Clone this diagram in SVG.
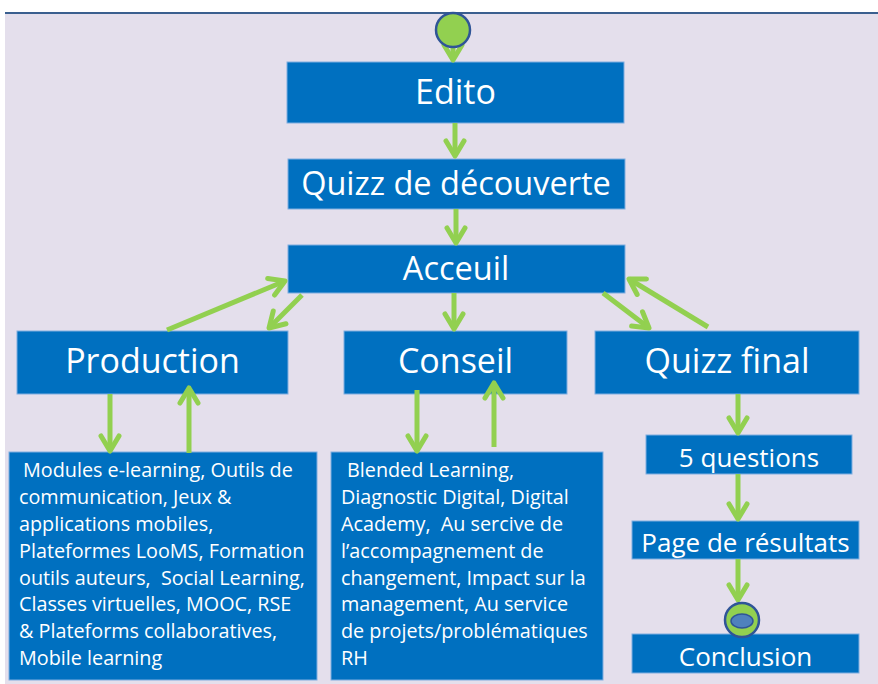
<svg xmlns="http://www.w3.org/2000/svg" width="878" height="684" viewBox="0 0 878 684">
<style>
.box{fill:#0070C0;stroke:#7FAEE0;stroke-width:1}
.t{fill:#fff;font-family:"Open Sans","Noto Sans",sans-serif;text-anchor:middle}
.s{fill:#fff;font-family:"Open Sans","Noto Sans",sans-serif;font-size:19.8px}
.c{stroke:#92D050;stroke-width:5;fill:none;marker-end:url(#ah)}
</style>
<defs>
<marker id="ah" markerUnits="userSpaceOnUse" viewBox="-20 -12 24 24" markerWidth="24" markerHeight="24" refX="0" refY="0" orient="auto">
<path d="M-15,-9 L0,0 L-15,9" fill="none" stroke="#92D050" stroke-width="5" stroke-linecap="round" stroke-linejoin="round"/>
</marker>
</defs>
<rect x="0" y="0" width="878" height="684" fill="#fff"/>
<rect x="5" y="13" width="873" height="671" fill="#E4DFEC"/>
<line x1="5" y1="13" x2="878" y2="13" stroke="#3A5F8F" stroke-width="2"/>

<g id="edito"><rect class="box" x="287" y="62" width="337" height="61"/><text class="t" x="455.5" y="104" font-size="34">Edito</text></g>
<g id="quizz-decouverte"><rect class="box" x="288" y="159" width="337" height="50"/><text class="t" x="456" y="195" font-size="32.5">Quizz de découverte</text></g>
<g id="acceuil"><rect class="box" x="288" y="245" width="337" height="48"/><text class="t" x="456" y="280" font-size="32.5">Acceuil</text></g>
<g id="production"><rect class="box" x="17" y="331" width="271" height="63"/><text class="t" x="152.5" y="373" font-size="34">Production</text></g>
<g id="conseil"><rect class="box" x="344" y="331" width="223" height="63"/><text class="t" x="455.5" y="373" font-size="34">Conseil</text></g>
<g id="quizz-final"><rect class="box" x="595" y="331" width="264" height="63"/><text class="t" x="727" y="373" font-size="34">Quizz final</text></g>
<g id="cinq-questions"><rect class="box" x="646" y="435" width="206" height="39"/><text class="t" x="749" y="467" font-size="26">5 questions</text></g>
<g id="page-resultats"><rect class="box" x="632" y="521" width="227" height="38"/><text class="t" x="745.5" y="552" font-size="26">Page de résultats</text></g>
<g id="conclusion"><rect class="box" x="632" y="634" width="227" height="39"/><text class="t" x="745.5" y="666" font-size="26">Conclusion</text></g>

<g id="production-details"><rect class="box" x="9" y="452" width="308" height="228"/>
<text class="s" xml:space="preserve"><tspan x="23" y="477">Modules e-learning, Outils de</tspan><tspan x="19" y="504">communication, Jeux &amp;</tspan><tspan x="19" y="531">applications mobiles,</tspan><tspan x="19" y="558">Plateformes LooMS, Formation</tspan><tspan x="19" y="585">outils auteurs,  Social Learning,</tspan><tspan x="19" y="611">Classes virtuelles, MOOC, RSE</tspan><tspan x="19" y="638">&amp; Plateforms collaboratives,</tspan><tspan x="19" y="665">Mobile learning</tspan></text></g>

<g id="conseil-details"><rect class="box" x="331" y="452" width="272" height="228"/>
<text class="s" xml:space="preserve"><tspan x="347" y="477">Blended Learning,</tspan><tspan x="341" y="504">Diagnostic Digital, Digital</tspan><tspan x="341" y="531">Academy,  Au sercive de</tspan><tspan x="341" y="558">l’accompagnement de</tspan><tspan x="341" y="585">changement, Impact sur la</tspan><tspan x="341" y="611">management, Au service</tspan><tspan x="341" y="638">de projets/problématiques</tspan><tspan x="341" y="665">RH</tspan></text></g>

<g id="connectors">
<path class="c" d="M453,45 L453,60"/>
<path class="c" d="M455,123 L455,156"/>
<path class="c" d="M456,209 L456,243"/>
<path class="c" d="M454,293 L454,329"/>
<path class="c" d="M167,330 L285,281"/>
<path class="c" d="M302,295 L269,328"/>
<path class="c" d="M603,293 L649,328"/>
<path class="c" d="M708,327 L629,279"/>
<path class="c" d="M110,394 L110,451"/>
<path class="c" d="M189,453 L189,388"/>
<path class="c" d="M417,390 L417,451"/>
<path class="c" d="M494,447 L494,383"/>
<path class="c" d="M738,394 L738,433"/>
<path class="c" d="M738,474 L738,519"/>
<path class="c" d="M738,559 L738,600"/>
</g>

<g id="start"><circle cx="453" cy="30" r="17" fill="#92D050" stroke="#2F5597" stroke-width="2.5"/></g>
<g id="end"><circle cx="742" cy="620" r="17" fill="#92D050" stroke="#2F5597" stroke-width="2.5"/><ellipse cx="742" cy="621" rx="11" ry="7" fill="#4F81BD" stroke="#2F5597" stroke-width="1.5"/></g>
</svg>
